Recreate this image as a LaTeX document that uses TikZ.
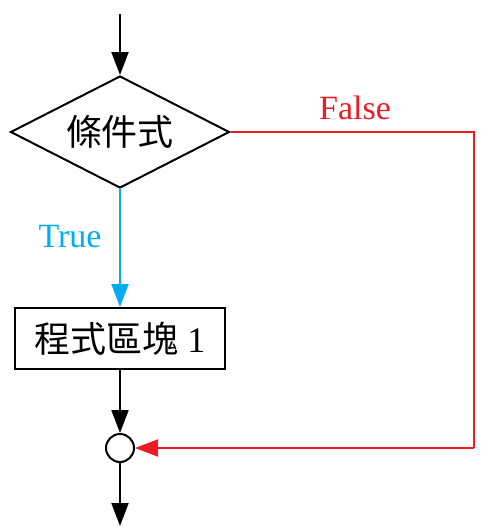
\documentclass[tikz,border=0pt]{standalone}
\usepackage{fontspec}
\setmainfont{Liberation Serif}
\newfontfamily\cjk{Noto Sans CJK TC}
\usetikzlibrary{shapes.geometric,arrows.meta}
\definecolor{fred}{RGB}{237,28,36}
\definecolor{tblue}{RGB}{0,174,239}
\begin{document}
\begin{tikzpicture}[x=1pt,y=-1pt,
  line width=2pt,
  tip/.style={-{Triangle[length=23pt,width=17pt]}},
  decision/.style={draw,diamond,inner sep=0pt,minimum width=219pt,minimum height=112pt,shape aspect=1.955,font=\fontsize{36}{40}\selectfont\cjk},
  block/.style={draw,rectangle,inner sep=0pt,minimum width=210pt,minimum height=61pt,font=\fontsize{36}{40}\selectfont},
  joint/.style={draw,circle,inner sep=0pt,minimum size=28pt},
  lbl/.style={font=\fontsize{34}{38}\selectfont}]
\useasboundingbox (0,0) rectangle (498,531);
\coordinate (start) at (120,14);
\node[decision] (cond) at (120,132) {條件式};
\node[block] (blk) at (120,338.5) {{\cjk 程式區塊} 1};
\node[joint] (j) at (120,448) {};
\coordinate (end) at (120,526);
\coordinate (rb) at (474,448);
\draw[tip] (start) -- (cond.north);
\draw[tip,tblue] (cond.south) -- (blk.north);
\draw[tip] (blk.south) -- (j.north);
\draw[tip] (j.south) -- (end);
\draw[fred,line join=miter] (cond.east) -| (rb);
\draw[tip,fred] (rb) -- (j.east);
\node[lbl,text=fred] (f) at (355,108) {False};
\node[lbl,text=tblue] (t) at (70,237) {True};
\end{tikzpicture}
\end{document}
